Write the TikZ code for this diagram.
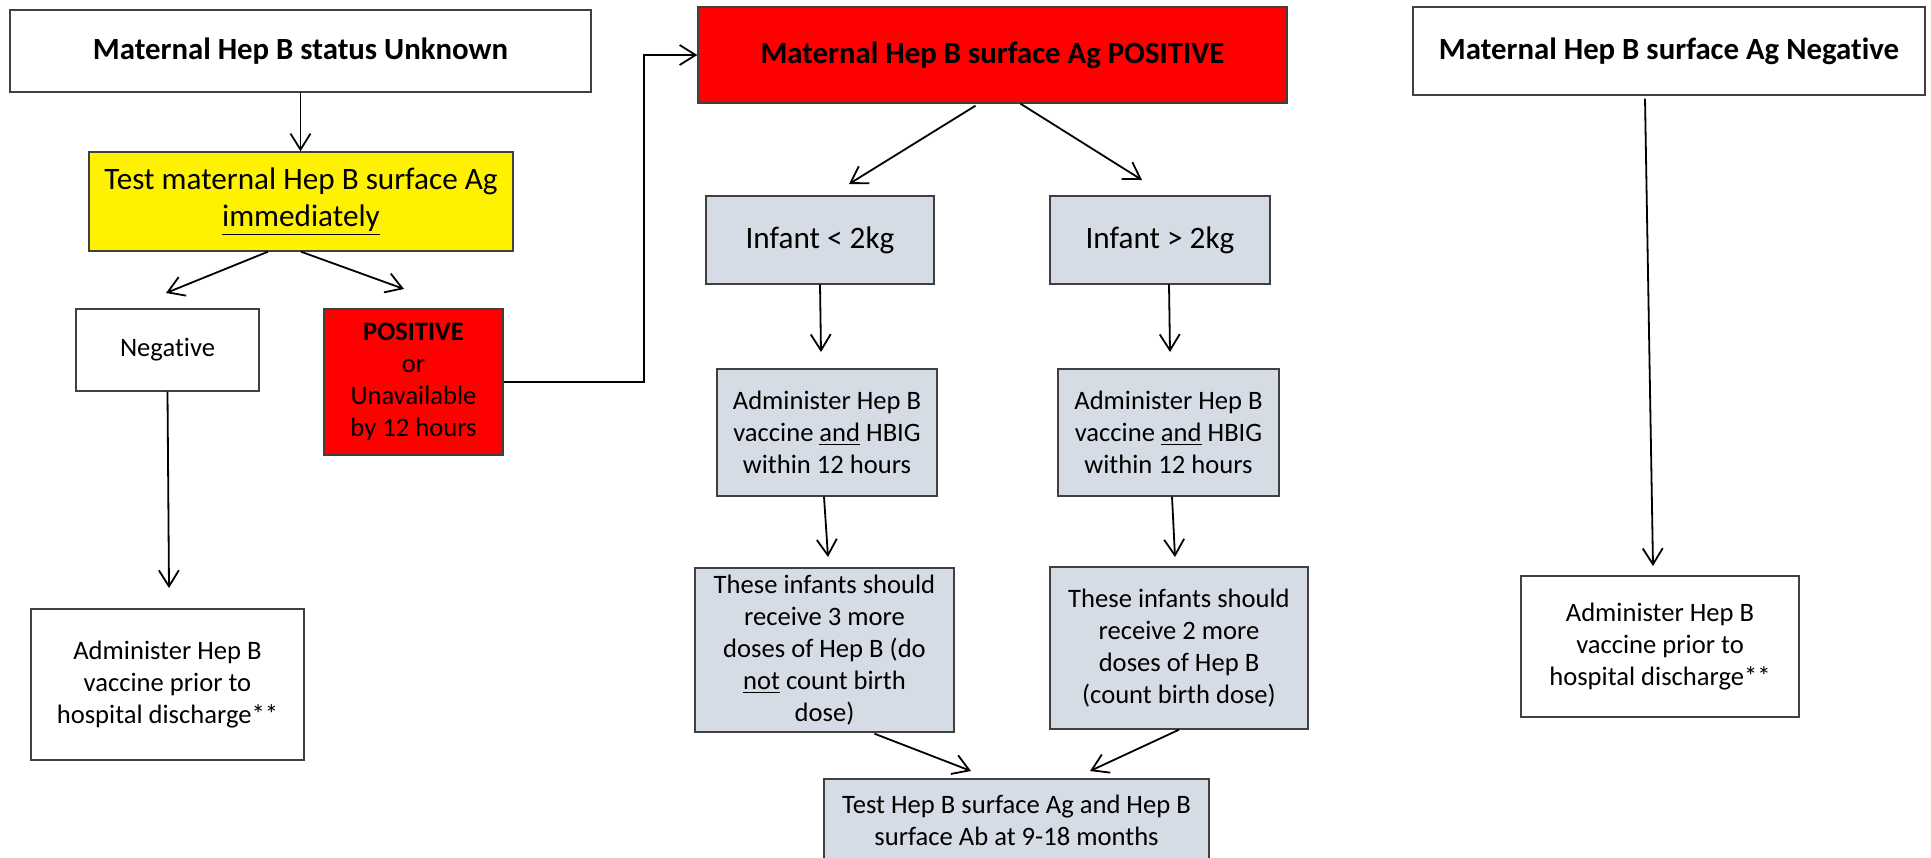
\documentclass[tikz,border=0pt]{standalone}
\usepackage{fontspec}
\setmainfont{Carlito}[Ligatures=NoCommon]
\usetikzlibrary{arrows.meta,calc}
\definecolor{boxgray}{HTML}{D6DCE5}
\definecolor{edge}{HTML}{404040}

\begin{document}
\begin{tikzpicture}[x=0.5pt,y=-0.5pt,
  box/.style={draw=edge, line width=0.7pt, inner sep=0pt, align=center,
              font=\fontsize{13.3pt}{16pt}\selectfont},
  title/.style={box, font=\fontsize{15.4pt}{18pt}\selectfont\bfseries},
  grey/.style={box, fill=boxgray},
  arr/.style={draw=black, line width=0.9pt, -{Straight Barb[length=8pt,width=10pt]}}
]
\useasboundingbox (0,0) rectangle (1931,857);

% left column: unknown status
\node[title, minimum width=290.5pt, minimum height=41pt] (unk) at (300.5,51)
  {Maternal Hep B status Unknown};
\node[box, fill=yellow, minimum width=212pt, minimum height=49.5pt,
      font=\fontsize{15.6pt}{18.5pt}\selectfont] (yel) at (301,201.5)
  {Test maternal Hep B surface Ag\\\underline{immediately}};
\node[box, minimum width=91.5pt, minimum height=41pt] (neg) at (167.5,350) {Negative};
\node[box, fill=red, minimum width=89.5pt, minimum height=73pt] (posu) at (413.5,382)
  {\textbf{POSITIVE}\\or\\Unavailable\\by 12 hours};
\node[box, minimum width=136.5pt, minimum height=75.5pt] (admL) at (167.5,684.5)
  {Administer Hep B\\vaccine prior to\\hospital discharge**};

% middle column: positive mother
\node[title, fill=red, minimum width=294.5pt, minimum height=48pt] (pos) at (992.5,55)
  {Maternal Hep B surface Ag POSITIVE};
\node[grey, minimum width=114pt, minimum height=44pt,
      font=\fontsize{15.6pt}{18pt}\selectfont] (inf1) at (820,240) {Infant < 2kg};
\node[grey, minimum width=110pt, minimum height=44pt,
      font=\fontsize{15.6pt}{18pt}\selectfont] (inf2) at (1160,240) {Infant > 2kg};
\node[grey, minimum width=110pt, minimum height=63.5pt] (vac1) at (827,432.5)
  {Administer Hep B\\vaccine \underline{and} HBIG\\within 12 hours};
\node[grey, minimum width=110.5pt, minimum height=63.5pt] (vac2) at (1168.5,432.5)
  {Administer Hep B\\vaccine \underline{and} HBIG\\within 12 hours};
\node[grey, minimum width=129.5pt, minimum height=82pt] (dose1) at (824.5,650)
  {These infants should\\receive 3 more\\doses of Hep B (do\\\underline{not} count birth\\dose)};
\node[grey, minimum width=129pt, minimum height=81pt] (dose2) at (1179,648)
  {These infants should\\receive 2 more\\doses of Hep B\\(count birth dose)};
\node[grey, minimum width=192.5pt, minimum height=41.5pt] (test) at (1016.5,820.5)
  {Test Hep B surface Ag and Hep B\\surface Ab at 9-18 months};

% right column: negative mother
\node[title, minimum width=256pt, minimum height=44pt] (negR) at (1669,51)
  {Maternal Hep B surface Ag Negative};
\node[box, minimum width=139pt, minimum height=70.5pt] (admR) at (1660,646.5)
  {Administer Hep B\\vaccine prior to\\hospital discharge**};

% arrow tips
\coordinate (t1) at (166,293);
\coordinate (t2) at (404,289);
\coordinate (t3) at (849,184);
\coordinate (t4) at (1142,180);
\coordinate (t5) at (821,352);
\coordinate (t6) at (1170,352);
\coordinate (t7) at (828,557);
\coordinate (t8) at (1175,557);
\coordinate (t9) at (971,771);
\coordinate (t10) at (1090,771);
\coordinate (t11) at (169,588);
\coordinate (t12) at (1653,566);

% connectors
\draw[arr] (unk.south) -- (unk.south |- yel.north);
\draw[arr] ($(yel.south)+(-33,0)$) -- (t1);
\draw[arr] (yel.south) -- (t2);
\draw[arr] (posu.east) -- ++(140,0) |- (pos.west);
\draw[arr] (neg.south) -- (t11);
\draw[arr] ($(pos.south)+(-17,2)$) -- (t3);
\draw[arr] ($(pos.south)+(28,0)$) -- (t4);
\draw[arr] (inf1.south) -- (t5);
\draw[arr] ($(inf2.south)+(9,0)$) -- (t6);
\draw[arr] ($(vac1.south)+(-3,0)$) -- (t7);
\draw[arr] ($(vac2.south)+(3.5,0)$) -- (t8);
\draw[arr] ($(dose1.south)+(50,1)$) -- (t9);
\draw[arr] (dose2.south) -- (t10);
\draw[arr] ($(negR.south)+(-24,3)$) -- (t12);
\end{tikzpicture}
\end{document}
